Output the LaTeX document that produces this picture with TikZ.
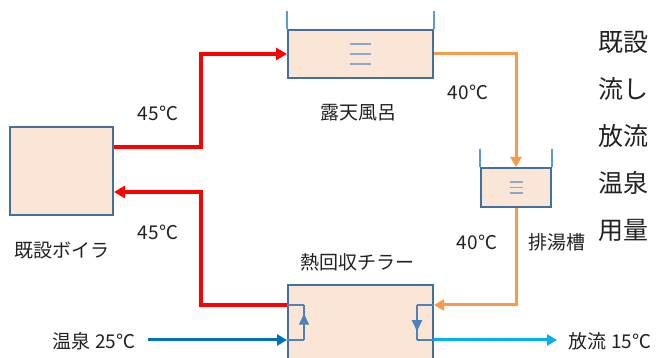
\documentclass[tikz,border=0pt]{standalone}
\usepackage{fontspec}
\newfontfamily\jp{Noto Sans CJK JP}
\usetikzlibrary{arrows.meta,decorations.markings}
\definecolor{boxline}{HTML}{41719C}
\definecolor{wallc}{HTML}{5B9BD5}
\definecolor{boxfill}{HTML}{FBE5D6}
\definecolor{hotc}{HTML}{FF0000}
\definecolor{warmc}{HTML}{F79A4A}
\definecolor{coldc}{HTML}{0070C0}
\definecolor{outc}{HTML}{00B0F0}
\definecolor{innerc}{HTML}{4F81BD}
\definecolor{levelc}{HTML}{8EA6C8}
\definecolor{txt}{HTML}{222222}
\tikzset{
  box/.style={draw=boxline, line width=2pt, fill=boxfill, inner sep=0pt},
  wall/.style={draw=wallc, line width=2pt},
  level/.style={draw=levelc, line width=1.5pt},
  pipe/.style={line width=3.5pt, -{Triangle[length=11pt,width=12pt]}},
  hot/.style={pipe, draw=hotc},
  warm/.style={line width=3pt, draw=warmc, -{Triangle[length=10pt,width=11pt]}},
  cold/.style={line width=3pt, draw=coldc, -{Triangle[length=10pt,width=11pt]}},
  outflow/.style={line width=3pt, draw=outc, -{Triangle[length=10pt,width=11pt]}},
  innerline/.style={draw=innerc, line width=2pt},
  midup/.style={postaction={decorate}, decoration={markings,
     mark=at position 0.75 with {\arrow{Triangle[length=11pt,width=10pt]}}}},
  lab/.style={font=\jp\fontsize{19}{22}\selectfont, text=txt, inner sep=0pt},
  biglab/.style={font=\jp\fontsize{25}{29}\selectfont, text=txt, inner sep=0pt, anchor=west},
}
\begin{document}
\begin{tikzpicture}[x=1pt,y=-1pt]
\useasboundingbox (0,0) rectangle (657,358);
\clip (0,0) rectangle (657,358);
% components
\node[box, minimum width=103pt, minimum height=88pt] (boiler) at (61.5,171) {};
\node[box, minimum width=145pt, minimum height=48pt] (bath) at (360.5,54) {};
\node[box, minimum width=70pt, minimum height=39pt] (drain) at (516,187.5) {};
\node[box, minimum width=145pt, minimum height=100pt] (chiller) at (360.5,335) {};
% tank walls
\draw[wall] (bath.north west) -- ++(0,-18);
\draw[wall] (bath.north east) -- ++(0,-18);
\draw[wall] (drain.north west) -- ++(0,-18);
\draw[wall] (drain.north east) -- ++(0,-18);
% water level marks
\foreach \d in {-10,0,10} {
  \draw[level] ([xshift=-10.5pt,yshift=\d pt]bath.center) -- ++(21,0);
}
\foreach \d in {-5.5,0,5.5} {
  \draw[level] ([xshift=-6.5pt,yshift=\d pt]drain.center) -- ++(13,0);
}
% waypoints
\coordinate (r1) at (201,54);
\coordinate (r2) at (201,192);
\coordinate (src) at (148,340);
\coordinate (dst) at (557,340);
% pipes
\draw[hot] ([yshift=24pt]boiler.east) -| (r1) -- (bath.west);
\draw[hot] ([yshift=30pt]chiller.west) -| (r2) -- ([yshift=-21pt]boiler.east);
\draw[warm] (bath.east) -| (drain.north);
\draw[warm] (drain.south) |- ([yshift=30pt]chiller.east);
\draw[cold] (src) -- ([yshift=-5pt]chiller.west);
\draw[outflow] ([yshift=-5pt]chiller.east) -- (dst);
% chiller internal loops
\coordinate (la) at ([xshift=17pt,yshift=30pt]chiller.west);
\coordinate (lb) at ([xshift=17pt,yshift=-5pt]chiller.west);
\coordinate (ra) at ([xshift=-17pt,yshift=30pt]chiller.east);
\coordinate (rb) at ([xshift=-17pt,yshift=-5pt]chiller.east);
\draw[innerline] ([yshift=30pt]chiller.west) -- (la);
\draw[innerline, midup] (lb) -- (la);
\draw[innerline] (lb) -- ([yshift=-5pt]chiller.west);
\draw[innerline] ([yshift=30pt]chiller.east) -- (ra);
\draw[innerline, midup] (ra) -- (rb);
\draw[innerline] (rb) -- ([yshift=-5pt]chiller.east);
% labels
\node[lab] (lbath) at (358,113) {露天風呂};
\node[lab] (lboiler) at (62,250) {既設ボイラ};
\node[lab] (lchiller) at (357,262) {熱回収チラー};
\node[lab] (ldrain) at (557,242) {排湯槽};
\node[lab] (t1) at (158,113) {45℃};
\node[lab] (t2) at (158,232) {45℃};
\node[lab] (t3) at (468,92) {40℃};
\node[lab] (t4) at (477,242) {40℃};
\node[lab] (lsrc) at (94,341) {温泉 25℃};
\node[lab] (ldst) at (610,341) {放流 15℃};
\node[biglab] (b1) at (598,42) {既設};
\node[biglab] (b2) at (598,89) {流し};
\node[biglab] (b3) at (598,136) {放流};
\node[biglab] (b4) at (598,183) {温泉};
\node[biglab] (b5) at (598,230) {用量};
\end{tikzpicture}
\end{document}
